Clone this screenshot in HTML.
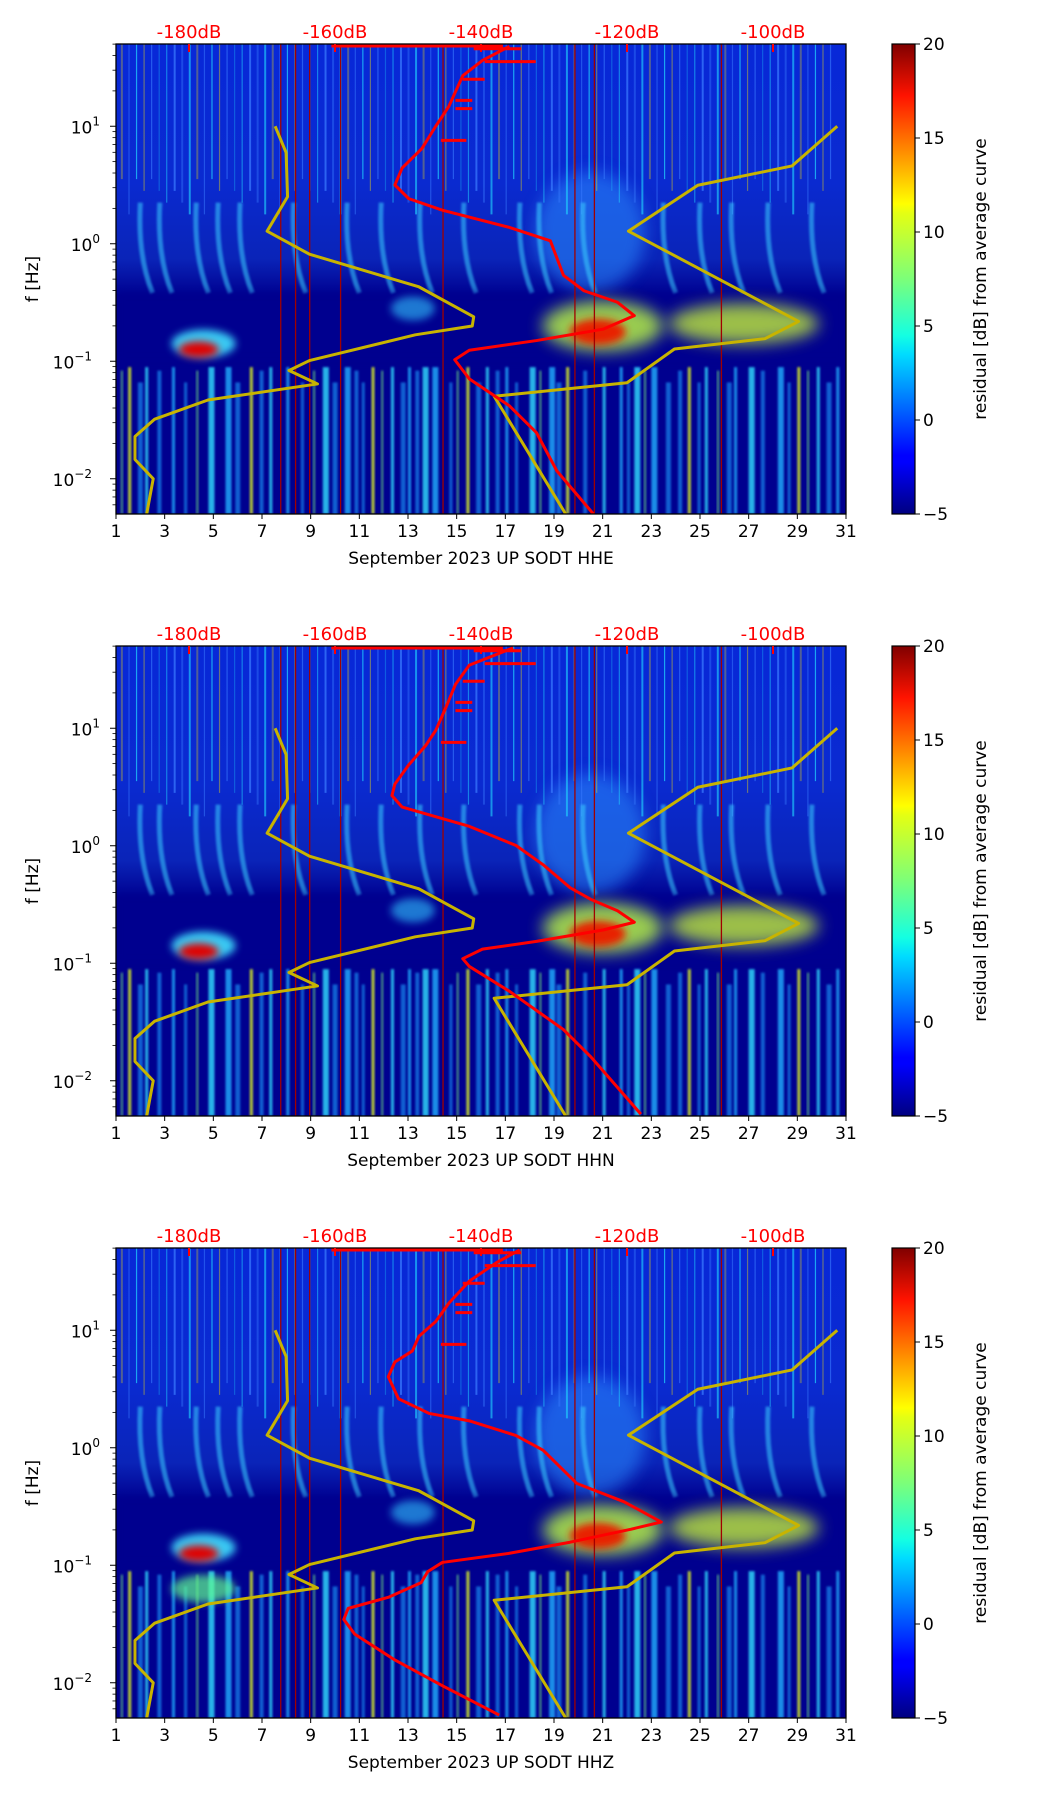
<!DOCTYPE html>
<html><head><meta charset="utf-8"><style>
html,body{margin:0;padding:0;background:#fff;}
svg{display:block;font-family:"DejaVu Sans","Liberation Sans",sans-serif;}
</style></head><body>
<svg id="fig" width="1052" height="1806" viewBox="0 0 1052 1806" xmlns="http://www.w3.org/2000/svg">
<defs>
<linearGradient id="jet" x1="0" y1="1" x2="0" y2="0">
<stop offset="0" stop-color="#000080"/><stop offset="0.11" stop-color="#0000ff"/><stop offset="0.125" stop-color="#0000ff"/>
<stop offset="0.34" stop-color="#00dcff"/><stop offset="0.38" stop-color="#14ffe2"/><stop offset="0.5" stop-color="#7cff79"/>
<stop offset="0.64" stop-color="#e4ff13"/><stop offset="0.66" stop-color="#ffff00"/><stop offset="0.89" stop-color="#ff1300"/><stop offset="1" stop-color="#800000"/>
</linearGradient>
<linearGradient id="upper" x1="0" y1="0" x2="0" y2="1">
<stop offset="0" stop-color="#0828d8"/><stop offset="0.55" stop-color="#0a2ad0"/><stop offset="0.85" stop-color="#0a24b8"/><stop offset="1" stop-color="#00008f"/>
</linearGradient>
<filter id="blur4" x="-50%" y="-50%" width="200%" height="200%"><feGaussianBlur stdDeviation="4"/></filter>
<filter id="blur8" x="-50%" y="-50%" width="200%" height="200%"><feGaussianBlur stdDeviation="8"/></filter>
<filter id="blur1" x="-50%" y="-50%" width="200%" height="200%"><feGaussianBlur stdDeviation="1"/></filter>
</defs>
</svg>
<script>
// ---- chart data ----
const channels = ["HHE", "HHN", "HHZ"];
const dayTicks = [1,3,5,7,9,11,13,15,17,19,21,23,25,27,29,31];
const dbTicks = [-180,-160,-140,-120,-100];
const cbTicks = [-5,0,5,10,15,20];
const yDecades = [1,0,-1,-2];
// noise models: dB and log10(f)
const nlnmDb = [-168.2,-166.7,-166.5,-169.3,-163.5,-148.5,-141.0,-141.2,-149.0,-163.5,-166.3,-162.4,-177.4,-184.7,-187.4,-187.4,-184.9,-185.8];
const nlnmLogF = [1.0,0.776,0.40,0.107,-0.089,-0.367,-0.622,-0.70,-0.775,-0.994,-1.079,-1.193,-1.33,-1.493,-1.64,-1.836,-2.0,-2.3];
const nhnmDb = [-91.2,-97.4,-110.3,-119.8,-96.5,-101.1,-113.5,-120.0,-138.2,-128.4];
const nhnmLogF = [1.0,0.662,0.498,0.107,-0.661,-0.808,-0.896,-1.183,-1.298,-2.3];
// average PSD curves per channel
const redDbE = [-136.1,-139.8,-142.5,-144.4,-146.2,-148.1,-150.8,-151.8,-149.9,-145.3,-136.1,-130.5,-128.7,-125.9,-121.3,-119.0,-123.2,-132.4,-141.6,-143.6,-141.6,-136.1,-132.4,-129.6,-124.6];
const redLogFE = [1.68,1.56,1.43,1.17,1.0,0.81,0.645,0.50,0.384,0.286,0.139,0.025,-0.269,-0.40,-0.498,-0.612,-0.726,-0.824,-0.906,-0.987,-1.15,-1.38,-1.608,-1.934,-2.3];
const redDbN = [-135.6,-141.6,-143.5,-144.8,-146.2,-147.6,-149.9,-151.8,-152.2,-150.8,-147.1,-141.6,-135.2,-131.5,-127.8,-125.0,-121.3,-119.0,-123.2,-132.4,-139.8,-142.5,-141.6,-136.1,-128.7,-125.0,-118.1];
const redLogFN = [1.684,1.537,1.373,1.178,0.982,0.851,0.688,0.524,0.427,0.329,0.263,0.165,0.002,-0.161,-0.357,-0.455,-0.553,-0.651,-0.716,-0.814,-0.88,-0.961,-1.027,-1.239,-1.565,-1.794,-2.284];
const redDbZ = [-134.7,-137.9,-141.6,-144.4,-146.2,-148.5,-149.4,-151.8,-152.7,-151.3,-147.1,-141.6,-135.2,-131.5,-126.9,-120.4,-115.3,-119.5,-127.8,-136.1,-145.3,-147.3,-148.2,-152.7,-158.2,-158.8,-157.3,-151.8,-145.3,-137.5];
const redLogFZ = [1.684,1.575,1.418,1.231,1.074,0.949,0.824,0.730,0.604,0.417,0.292,0.229,0.104,-0.021,-0.303,-0.46,-0.632,-0.694,-0.804,-0.898,-0.976,-1.054,-1.148,-1.273,-1.367,-1.461,-1.586,-1.806,-2.025,-2.275];
// spike segments: logf, dB start, dB end
const spikeLogF = [1.66,1.55,1.40,1.22,1.15,0.88];
const spikeDbA = [-141,-139.5,-142.5,-143.5,-143.5,-145.5];
const spikeDbB = [-134.5,-132.5,-139.5,-141.2,-141.2,-142.0];
const markerDays = [7.77,8.38,8.96,10.23,14.44,19.86,20.66,25.88];
const lowStripeDays = [1.5,2.2,3.3,4.8,5.5,6.5,7.3,8.0,9.5,10.4,11.5,12.3,13.0,13.6,14.0,15.4,16.2,17.0,18.0,18.8,19.5,21.0,21.7,22.3,23.0,24.5,25.2,26.4,27.0,28.2,29.0,29.8,30.6];
const lowStripeDays2 = [1.2,1.9,2.7,3.8,4.3,5.9,6.9,8.6,9.1,9.9,10.8,11.1,11.9,12.7,13.3,14.7,15.0,15.8,16.6,17.4,18.4,19.1,20.2,22.0,22.7,23.6,24.1,24.9,25.7,26.1,27.5,28.6,29.4,30.2];
const comets = [2.0,2.8,4.3,5.2,6.1,8.3,10.5,11.9,13.5,15.3,17.6,18.4,20.2,23.5,25.0,26.3,27.8,29.6];
const reds = [[redDbE,redLogFE],[redDbN,redLogFN],[redDbZ,redLogFZ]];

const NS = "http://www.w3.org/2000/svg";
const svg = document.getElementById("fig");
const L = 116, R = 846, PH = 470, TOPS = [44, 646, 1248];
const CBL = 892, CBR = 915;
function el(tag, attrs, parent){const e=document.createElementNS(NS,tag);for(const k in attrs)e.setAttribute(k,attrs[k]);(parent||svg).appendChild(e);return e;}

TOPS.forEach((T, pi) => {
  const B = T + PH;
  const xDay = d => L + (d - 1) / 30 * (R - L);
  const xDb = db => L + (db + 190) / 100 * (R - L);
  const yF = lf => T + (1.7 - lf) / 4 * PH;
  const g = el("g", {});
  
  
  const clipId = "clip" + pi;
  const cp = el("clipPath", {id: clipId}, g); el("rect", {x:L, y:T, width:R-L, height:PH}, cp);
  const sp = el("g", {"clip-path": "url(#"+clipId+")"}, g);
  
  
  el("rect", {x:L, y:T, width:R-L, height:PH, fill:"#00008f"}, sp);
  el("rect", {x:L, y:T, width:R-L, height:yF(-0.45)-T, fill:"url(#upper)"}, sp);
  el("ellipse", {cx:xDay(20.5), cy:yF(0.1), rx:55, ry:60, fill:"#2a8cff", opacity:0.55, filter:"url(#blur8)"}, sp);
  for (let i = 0; i < 95; i++) {
    const d = 1.2 + i * 0.31;
    const k = (i * 37) % 10;
    const col = k < 2 ? "#ffe600" : (k < 6 ? "#22d8ff" : "#3a7cff");
    el("rect", {x:xDay(d), y:T, width: k%3===0?2:1.2, height:yF(0.55 - (k%4)*0.1)-T, fill:col, opacity: 0.3 + (k%5)*0.1}, sp);
  }
  comets.forEach((d, i) => {
    el("path", {d:`M${xDay(d)},${yF(0.35)} Q${xDay(d)-3},${yF(-0.1)} ${xDay(d+0.5)},${yF(-0.42)}`, stroke:"#3ad0ff", "stroke-width":5, fill:"none", opacity:0.55, filter:"url(#blur1)"}, sp);
  });
  el("rect", {x:L, y:yF(-0.42), width:R-L, height:yF(-1.0)-yF(-0.42), fill:"#00008f", opacity:0.7, filter:"url(#blur4)"}, sp);
  lowStripeDays2.forEach((d, i) => {
    const k = (i * 3) % 4;
    el("rect", {x:xDay(d), y:yF(-1.08 - (k%2)*0.1), width: 2 + k, height:B-yF(-1.08), fill: k===0 ? "#80ff80" : "#1aa0ff", opacity:0.6, filter:"url(#blur1)"}, sp);
  });
  lowStripeDays.forEach((d, i) => {
    const k = (i * 7) % 5;
    const col = k === 0 ? "#e8ff20" : (k < 3 ? "#30e0ff" : "#20b0ff");
    el("rect", {x:xDay(d), y:yF(-1.05), width: 3 + (k%2)*3, height:B-yF(-1.05), fill:col, opacity:0.8, filter:"url(#blur1)"}, sp);
  });
  el("ellipse", {cx:xDay(4.6), cy:yF(-0.85), rx:32, ry:14, fill:"#40e0ff", opacity:0.9, filter:"url(#blur4)"}, sp);
  el("ellipse", {cx:xDay(4.4), cy:yF(-0.9), rx:20, ry:8, fill:"#e00000", filter:"url(#blur4)"}, sp);
  el("ellipse", {cx:xDay(21), cy:yF(-0.7), rx:60, ry:25, fill:"#c0ff40", opacity:0.8, filter:"url(#blur8)"}, sp);
  el("ellipse", {cx:xDay(20.8), cy:yF(-0.75), rx:28, ry:13, fill:"#e82000", filter:"url(#blur4)"}, sp);
  el("ellipse", {cx:xDay(26.8), cy:yF(-0.68), rx:75, ry:20, fill:"#d0ff30", opacity:0.75, filter:"url(#blur8)"}, sp);
  el("ellipse", {cx:xDay(13.2), cy:yF(-0.55), rx:22, ry:12, fill:"#30c8ff", opacity:0.6, filter:"url(#blur4)"}, sp);
  if (pi === 2) el("ellipse", {cx:xDay(4.6), cy:yF(-1.2), rx:32, ry:14, fill:"#60ff90", opacity:0.7, filter:"url(#blur4)"}, sp);
  markerDays.forEach(d => {
    const m = el("line", {x1:xDay(d), x2:xDay(d), y1:T, y2:B, stroke:"#a00000", "stroke-width":1.3}, sp);
    
    
  });
  const pts = (dbs, lfs) => dbs.map((v, i) => xDb(v) + "," + yF(lfs[i])).join(" ");
  const nl = el("polyline", {points:pts(nlnmDb, nlnmLogF), fill:"none", stroke:"#c8b400", "stroke-width":3, "stroke-linejoin":"round"}, sp);
  
  
  const nh = el("polyline", {points:pts(nhnmDb, nhnmLogF), fill:"none", stroke:"#c8b400", "stroke-width":3, "stroke-linejoin":"round"}, sp);
  
  
  const rc = el("polyline", {points:pts(reds[pi][0], reds[pi][1]), fill:"none", stroke:"#ff0000", "stroke-width":3, "stroke-linejoin":"round"}, sp);
  
  
  const th = el("line", {x1:xDb(-160.5), x2:xDb(-137), y1:T+2, y2:T+2, stroke:"#ff0000", "stroke-width":3}, sp);
  
  
  spikeLogF.forEach((lf, i) => {
    const s = el("line", {x1:xDb(spikeDbA[i]), x2:xDb(spikeDbB[i]), y1:yF(lf), y2:yF(lf), stroke:"#ff0000", "stroke-width":3}, sp);
    
    
  });
  el("rect", {x:L, y:T, width:R-L, height:PH, fill:"none", stroke:"#000", "stroke-width":1.3}, g);
  dayTicks.forEach(d => {
    el("line", {x1:xDay(d), x2:xDay(d), y1:B, y2:B+5, stroke:"#000", "stroke-width":1}, g);
    const t = el("text", {x:xDay(d), y:B+23, "font-size":17, "text-anchor":"middle", fill:"#000"}, g); t.textContent = d;
    
    
  });
  const xl = el("text", {x:(L+R)/2, y:B+50, "font-size":17, "text-anchor":"middle", fill:"#000"}, g);
  xl.textContent = "September 2023 UP SODT  " + channels[pi];
  
  
  dbTicks.forEach(db => {
    el("line", {x1:xDb(db), x2:xDb(db), y1:T, y2:T+8, stroke:"#ff0000", "stroke-width":2}, g);
    const t = el("text", {x:xDb(db), y:T-6, "font-size":18, "text-anchor":"middle", fill:"#ff0000"}, g); t.textContent = db + "dB";
    
    
  });
  yDecades.forEach(p => {
    el("line", {x1:L-6, x2:L, y1:yF(p), y2:yF(p), stroke:"#000", "stroke-width":1}, g);
    const t = el("text", {x:L-20, y:yF(p)+7, "font-size":17, "text-anchor":"end", fill:"#000"}, g);
    t.textContent = "10";
    const s = el("tspan", {"font-size":12, dy:-8}, t); s.textContent = p < 0 ? "\u2212" + (-p) : "" + p;
    t.setAttribute('x', L - 8 - (p<0?16:8));
    
    
  });
  for (let p = -3; p <= 1; p++) for (let m = 2; m <= 9; m++) {
    const lf = p + Math.log10(m);
    if (lf < -2.3 || lf > 1.7) continue;
    el("line", {x1:L-3.5, x2:L, y1:yF(lf), y2:yF(lf), stroke:"#000", "stroke-width":0.8}, g);
  }
  const yl = el("text", {x:0, y:0, "font-size":17, "text-anchor":"middle", fill:"#000", transform:`translate(38,${T+PH/2}) rotate(-90)`}, g);
  yl.textContent = "f [Hz]";
  
  
  const cb = el("rect", {x:CBL, y:T, width:CBR-CBL, height:PH, fill:"url(#jet)", stroke:"#000", "stroke-width":1.2}, g);
  
  
  cbTicks.forEach(v => {
    const y = B - (v + 5) / 25 * PH;
    el("line", {x1:CBR, x2:CBR+5, y1:y, y2:y, stroke:"#000", "stroke-width":1}, g);
    const t = el("text", {x:CBR+8, y:y+6, "font-size":17, fill:"#000"}, g); t.textContent = v < 0 ? "\u2212" + (-v) : v;
    
    
  });
  const cl = el("text", {x:0, y:0, "font-size":17, "text-anchor":"middle", fill:"#000", transform:`translate(986,${T+PH/2}) rotate(-90)`}, g);
  cl.textContent = "residual [dB] from average curve";
  
  
});
</script>
</body></html>
